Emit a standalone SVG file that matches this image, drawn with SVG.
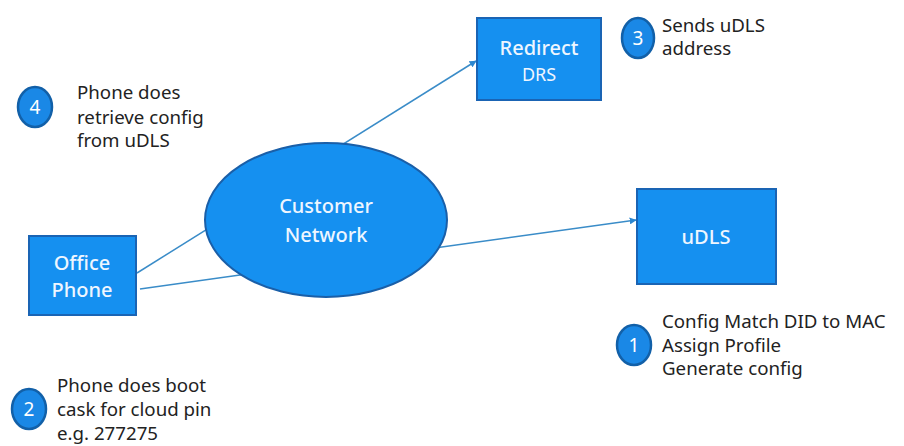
<svg xmlns="http://www.w3.org/2000/svg" width="904" height="446" viewBox="0 0 904 446">
<defs>
<style>
.box{fill:#1590f0;stroke:#1a64b4;stroke-width:2}
.ell{fill:#1590f0;stroke:#1a5fa8;stroke-width:2}
.badge{fill:#1a88e6;stroke:#1260a8;stroke-width:2.5}
.nt{font-family:"Noto Sans","DejaVu Sans",sans-serif;font-size:20px;font-weight:500;fill:#eef6ff;text-anchor:middle}
.bt{font-family:"Noto Sans","DejaVu Sans",sans-serif;font-size:19px;fill:#ffffff;text-anchor:middle}
.lt{font-family:"Noto Sans","DejaVu Sans",sans-serif;font-size:18.7px;fill:#222222}
.conn{stroke:#3a8cc8;stroke-width:1.5;fill:none}
</style>
<marker id="arr" viewBox="0 0 10 10" refX="9" refY="5" markerWidth="7" markerHeight="7" orient="auto" markerUnits="userSpaceOnUse">
<path d="M0,0 L10,5 L0,10 z" fill="#2a86d0"/>
</marker>
</defs>
<rect width="904" height="446" fill="#ffffff"/>
<g id="connectors">
<line class="conn" x1="137" y1="273" x2="476" y2="61" marker-end="url(#arr)"/>
<line class="conn" x1="140" y1="289" x2="636" y2="220" marker-end="url(#arr)"/>
</g>
<g id="customer-network">
<ellipse class="ell" cx="326" cy="220" rx="121" ry="77"/>
<text class="nt" x="326" y="213">Customer</text>
<text class="nt" x="326" y="242">Network</text>
</g>
<g id="office-phone">
<rect class="box" x="29" y="236" width="107" height="79"/>
<text class="nt" x="82" y="270">Office</text>
<text class="nt" x="82" y="297">Phone</text>
</g>
<g id="redirect">
<rect class="box" x="477" y="18" width="124" height="82"/>
<text class="nt" x="539" y="55">Redirect</text>
<text class="nt" x="539" y="81" style="font-size:18px;font-weight:400">DRS</text>
</g>
<g id="udls">
<rect class="box" x="637" y="189" width="139" height="95"/>
<text class="nt" x="706" y="244">uDLS</text>
</g>
<g id="step1">
<ellipse class="badge" cx="634" cy="345" rx="17" ry="20"/>
<text class="bt" x="634" y="352">1</text>
<text class="lt" x="662" y="328">Config Match DID to MAC</text>
<text class="lt" x="662" y="352">Assign Profile</text>
<text class="lt" x="662" y="375">Generate config</text>
</g>
<g id="step2">
<ellipse class="badge" cx="29" cy="409" rx="17" ry="20"/>
<text class="bt" x="29" y="416">2</text>
<text class="lt" x="57" y="392">Phone does boot</text>
<text class="lt" x="57" y="416">cask for cloud pin</text>
<text class="lt" x="57" y="440">e.g. 277275</text>
</g>
<g id="step3">
<ellipse class="badge" cx="638" cy="38" rx="16" ry="20"/>
<text class="bt" x="638" y="45">3</text>
<text class="lt" x="662" y="32">Sends uDLS</text>
<text class="lt" x="662" y="55">address</text>
</g>
<g id="step4">
<ellipse class="badge" cx="35" cy="107" rx="17" ry="20"/>
<text class="bt" x="35" y="114">4</text>
<text class="lt" x="77" y="99">Phone does</text>
<text class="lt" x="77" y="124">retrieve config</text>
<text class="lt" x="77" y="147">from uDLS</text>
</g>
</svg>
